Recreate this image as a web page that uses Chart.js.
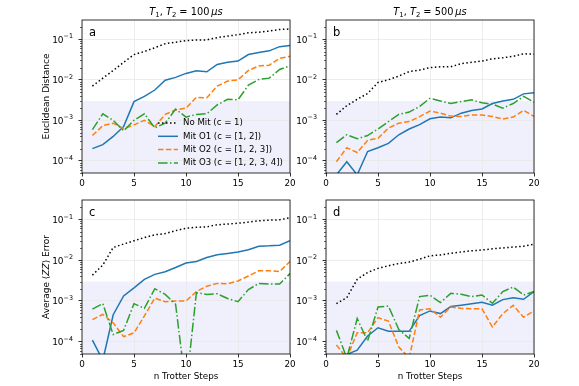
<!DOCTYPE html>
<html>
<head>
<meta charset="utf-8">
<script src="https://cdn.jsdelivr.net/npm/chart.js@4.4.0/dist/chart.umd.min.js"></script>
<style>
  body { margin: 0; background: #fff; }
  #wrap { position: relative; width: 579px; height: 386px; overflow: hidden; }
  canvas { position: absolute; }
</style>
</head>
<body>
<div id="wrap">
  <canvas id="pa"></canvas>
  <canvas id="pb"></canvas>
  <canvas id="pc"></canvas>
  <canvas id="pd"></canvas>
</div>
<script>
// ---- data ----
const steps = [1, 2, 3, 4, 5, 6, 7, 8, 9, 10, 11, 12, 13, 14, 15, 16, 17, 18, 19, 20];

const seriesNames = ['No Mit (c = 1)', 'Mit O1 (c = [1, 2])', 'Mit O2 (c = [1, 2, 3])', 'Mit O3 (c = [1, 2, 3, 4])'];
const coherenceTimes = [100, 500]; // us, left / right column
const xLabel = 'n Trotter Steps';
const panelLetters = ['a', 'b', 'c', 'd'];

const xTicks = [0, 5, 10, 15, 20];
const yTicks = [1e-4, 1e-3, 1e-2, 1e-1];
const yTickExponents = ['\u22124', '\u22123', '\u22122', '\u22121'];
const yMin = 5e-5;
const yMax = 0.3;
const shadeLimit = 3e-3;

// panel a : Euclidean distance, T = 100us
const noMitA = [0.007, 0.011, 0.017, 0.027, 0.042, 0.05, 0.062, 0.078, 0.085, 0.093, 0.096, 0.097, 0.11, 0.12, 0.13, 0.145, 0.15, 0.16, 0.175, 0.18];
const mitO1A = [2e-4, 2.5e-4, 4e-4, 7e-4, 2.9e-3, 3.9e-3, 5.6e-3, 9.8e-3, 0.0115, 0.0144, 0.0167, 0.0158, 0.024, 0.027, 0.029, 0.042, 0.047, 0.052, 0.066, 0.07];
const mitO2A = [4.2e-4, 7.4e-4, 8.5e-4, 6.2e-4, 7.7e-4, 1e-3, 7e-4, 1.4e-3, 1.8e-3, 2e-3, 3.7e-3, 3.6e-3, 7e-3, 9.3e-3, 0.01, 0.017, 0.022, 0.023, 0.034, 0.038];
const mitO3A = [5.9e-4, 1.45e-3, 1e-3, 5.5e-4, 1e-3, 1.45e-3, 6.5e-4, 8.5e-4, 1.9e-3, 1.2e-3, 1.4e-3, 1.45e-3, 2.4e-3, 3.3e-3, 3.2e-3, 7.4e-3, 0.0102, 0.011, 0.018, 0.022];

// panel b : Euclidean distance, T = 500us
const noMitB = [1.4e-3, 2.3e-3, 3.3e-3, 4.6e-3, 8.6e-3, 0.01, 0.0124, 0.016, 0.0174, 0.02, 0.021, 0.021, 0.025, 0.027, 0.029, 0.033, 0.035, 0.038, 0.044, 0.043];
const mitO1B = [4.5e-5, 9.5e-5, 4.5e-5, 1.7e-4, 2.1e-4, 2.7e-4, 4.4e-4, 6.1e-4, 7.8e-4, 1.09e-3, 1.2e-3, 1.15e-3, 1.5e-3, 1.75e-3, 1.9e-3, 2.6e-3, 3e-3, 3.3e-3, 4.5e-3, 4.8e-3];
const mitO2B = [9.5e-5, 2.1e-4, 1.6e-4, 3.2e-4, 3.6e-4, 6.4e-4, 8.5e-4, 9.3e-4, 1.23e-3, 1.7e-3, 1.5e-3, 1.27e-3, 1.25e-3, 1.35e-3, 1.35e-3, 1.25e-3, 1.07e-3, 1.2e-3, 1.75e-3, 1.25e-3];
const mitO3B = [2.8e-4, 4.4e-4, 3.5e-4, 4.2e-4, 6.1e-4, 9.3e-4, 1.4e-3, 1.6e-3, 2.2e-3, 3.5e-3, 3e-3, 2.6e-3, 2.9e-3, 3.2e-3, 2.7e-3, 2.5e-3, 2e-3, 2.6e-3, 3.9e-3, 2.8e-3];

// panel c : <ZZ> error, T = 100us
const noMitC = [4.3e-3, 7.6e-3, 0.0205, 0.025, 0.03, 0.036, 0.042, 0.045, 0.053, 0.061, 0.064, 0.066, 0.074, 0.077, 0.081, 0.086, 0.093, 0.096, 0.098, 0.11];
const mitO1C = [1.1e-4, 3.5e-5, 4.6e-4, 1.33e-3, 2.1e-3, 3.4e-3, 4.5e-3, 5.2e-3, 6.6e-3, 8.5e-3, 9.3e-3, 0.0117, 0.0136, 0.0147, 0.016, 0.018, 0.022, 0.0225, 0.0234, 0.03];
const mitO2C = [3.5e-4, 4.7e-4, 2.9e-4, 1.33e-4, 1.65e-4, 4.3e-4, 1.17e-3, 9.6e-4, 1e-3, 1e-3, 1.7e-3, 2.3e-3, 2.7e-3, 2.65e-3, 3.1e-3, 4.1e-3, 5.5e-3, 5.5e-3, 5.3e-3, 9.3e-3];
const mitO3C = [6.3e-4, 8.6e-4, 1.5e-4, 1.9e-4, 8.6e-4, 6.6e-4, 2e-3, 1.45e-3, 8.3e-4, 7e-6, 1.6e-3, 1.45e-3, 1.5e-3, 1.15e-3, 9.6e-4, 1.9e-3, 2.7e-3, 2.6e-3, 2.6e-3, 4.7e-3];

// panel d : <ZZ> error, T = 500us
const noMitD = [8.6e-4, 1.2e-3, 3.4e-3, 5e-3, 6.3e-3, 7.3e-3, 8.3e-3, 9e-3, 0.0106, 0.0128, 0.0135, 0.0148, 0.016, 0.017, 0.0178, 0.019, 0.02, 0.021, 0.022, 0.0246];
const mitO1D = [4e-5, 4.9e-5, 6.2e-5, 1.38e-4, 2.2e-4, 1.8e-4, 1.8e-4, 1.8e-4, 4.4e-4, 5.7e-4, 4.9e-4, 7.3e-4, 7.9e-4, 8.6e-4, 9.3e-4, 7.9e-4, 1.08e-3, 1.2e-3, 1.1e-3, 1.7e-3];
const mitO2D = [8.3e-5, 4e-5, 1.66e-4, 1.66e-4, 3.9e-4, 3.2e-4, 7.4e-5, 4e-5, 6e-4, 6.4e-4, 4e-4, 7.1e-4, 6.6e-4, 6.4e-4, 6.4e-4, 2.3e-4, 4.9e-4, 7.8e-4, 4e-4, 5.7e-4];
const mitO3D = [1.9e-4, 4e-5, 3.7e-4, 1.04e-4, 7.1e-4, 7.5e-4, 2e-4, 1.2e-4, 1.28e-3, 1.38e-3, 9.1e-4, 1.54e-3, 1.46e-3, 1.28e-3, 1.4e-3, 8.8e-4, 1.7e-3, 2.2e-3, 1.4e-3, 1.7e-3];

// ---- styles ----
const FONT = "'DejaVu Sans', sans-serif";
const lineStyles = [
  { color: '#000000', dash: [1.5, 2.5] },
  { color: '#1f77b4', dash: [] },
  { color: '#ff7f0e', dash: [5.5, 2.4] },
  { color: '#2ca02c', dash: [9.6, 2.4, 1.5, 2.4] }
];

// y axis titles as text runs (italic where matplotlib used mathtext)
const yTitleRuns = [
  [{ s: 'Euclidean Distance' }],
  [{ s: 'Average \u27e8' }, { s: 'ZZ', it: true }, { s: '\u27e9 Error' }]
];

// draw a list of runs left to right starting at x; returns nothing
function drawRuns(ctx, runs, cx, cy, size) {
  const fontFor = r => (r.it ? 'italic ' : '') + (r.sub || r.sup ? size * 0.7 : size) + 'px ' + FONT;
  let total = 0;
  runs.forEach(r => { ctx.font = fontFor(r); r.w = ctx.measureText(r.s).width; total += r.w; });
  let x = cx - total / 2;
  ctx.textAlign = 'left';
  runs.forEach(r => {
    ctx.font = fontFor(r);
    ctx.fillText(r.s, x, cy + (r.sub ? size * 0.25 : 0));
    x += r.w;
  });
}

const decorations = {
  id: 'decorations',
  beforeDraw(chart) {
    const { ctx, chartArea: a, scales } = chart;
    const yTop = scales.y.getPixelForValue(shadeLimit);
    ctx.save();
    ctx.fillStyle = '#eff0fc';
    ctx.fillRect(a.left, yTop, a.right - a.left, a.bottom - yTop);
    ctx.restore();
  },
  afterDraw(chart, args, opts) {
    const { ctx, chartArea: a, scales } = chart;
    ctx.save();
    ctx.fillStyle = '#000';
    // minor log ticks
    ctx.strokeStyle = '#000';
    ctx.lineWidth = 0.6;
    for (let e = -5; e <= 0; e++) {
      for (let k = 2; k <= 9; k++) {
        const v = k * Math.pow(10, e);
        if (v < yMin || v > yMax) continue;
        const py = Math.round(scales.y.getPixelForValue(v)) + 0.5;
        ctx.beginPath();
        ctx.moveTo(a.left - 2, py);
        ctx.lineTo(a.left, py);
        ctx.stroke();
      }
    }
    // major y labels 10^-n
    ctx.textBaseline = 'middle';
    ctx.textAlign = 'left';
    yTicks.forEach((v, i) => {
      const py = scales.y.getPixelForValue(v);
      ctx.font = '9px ' + FONT;
      const wb = ctx.measureText('10').width;
      ctx.font = '6.4px ' + FONT;
      const we = ctx.measureText(yTickExponents[i]).width;
      const xr = a.left - 9;
      ctx.font = '9px ' + FONT;
      ctx.fillText('10', xr - we - wb, py + 1);
      ctx.font = '6.4px ' + FONT;
      ctx.fillText(yTickExponents[i], xr - we, py - 2.5);
    });
    // frame
    ctx.lineWidth = 0.8;
    ctx.strokeRect(a.left, a.top, a.right - a.left, a.bottom - a.top);
    // panel letter
    ctx.font = '11.5px ' + FONT;
    ctx.fillText(opts.letter, a.left + 7, a.top + 13);
    // y title, rotated
    if (opts.yTitle !== undefined) {
      ctx.save();
      ctx.translate(a.left - 35, (a.top + a.bottom) / 2);
      ctx.rotate(-Math.PI / 2);
      ctx.textBaseline = 'middle';
      drawRuns(ctx, yTitleRuns[opts.yTitle].map(r => ({ ...r })), 0, 0, 9);
      ctx.restore();
    }
    // column title
    if (opts.title) {
      ctx.textBaseline = 'alphabetic';
      drawRuns(ctx, [
        { s: 'T', it: true }, { s: '1', sub: true }, { s: ', ' },
        { s: 'T', it: true }, { s: '2', sub: true }, { s: ' = ' + opts.title + '\u2009' },
        { s: '\u03bcs', it: true }
      ], (a.left + a.right) / 2, 15, 9.8);
    }
    // legend
    if (opts.legend) {
      ctx.font = '8.6px ' + FONT;
      ctx.textBaseline = 'middle';
      chart.data.datasets.forEach((ds, i) => {
        const y = a.bottom - 50 + i * 13.3;
        const x0 = a.left + 76;
        ctx.strokeStyle = ds.borderColor;
        ctx.lineWidth = 1.5;
        ctx.setLineDash(ds.borderDash);
        ctx.beginPath();
        ctx.moveTo(x0, y);
        ctx.lineTo(x0 + 20, y);
        ctx.stroke();
        ctx.setLineDash([]);
        ctx.fillText(ds.label, x0 + 25, y);
      });
    }
    ctx.restore();
  }
};

function makePanel(id, geo, series, opts) {
  const cv = document.getElementById(id);
  cv.width = geo.w;
  cv.height = geo.h;
  cv.style.left = geo.x + 'px';
  cv.style.top = geo.y + 'px';
  const datasets = series.map((vals, i) => ({
    label: seriesNames[i],
    data: steps.map((s, j) => ({ x: s, y: vals[j] })),
    borderColor: lineStyles[i].color,
    borderDash: lineStyles[i].dash,
    borderWidth: 1.5,
    borderCapStyle: 'butt',
    pointRadius: 0,
    tension: 0,
    fill: false,
    order: 3 - i
  }));
  return new Chart(cv, {
    type: 'line',
    data: { datasets },
    plugins: [decorations],
    options: {
      responsive: false,
      animation: false,
      devicePixelRatio: 1,
      layout: { padding: { left: 0, top: geo.padTop, right: geo.padRight, bottom: 0 } },
      plugins: {
        legend: { display: false },
        tooltip: { enabled: false },
        decorations: opts
      },
      scales: {
        x: {
          type: 'linear',
          min: 0,
          max: 20,
          afterBuildTicks: s => { s.ticks = xTicks.map(v => ({ value: v })); },
          afterFit: s => { s.height = geo.xH; },
          grid: { color: '#e8e8e8', lineWidth: 0.8, tickColor: '#000', tickLength: 3.5, tickWidth: 0.8 },
          border: { display: false },
          ticks: { color: '#000', font: { family: FONT, size: 8.8 }, padding: 1.5, maxRotation: 0 },
          title: opts.xTitle ? { display: true, text: xLabel, color: '#000', font: { family: FONT, size: 8.8 }, padding: { top: 0, bottom: 4.5 } } : { display: false }
        },
        y: {
          type: 'logarithmic',
          min: yMin,
          max: yMax,
          afterBuildTicks: s => { s.ticks = yTicks.map(v => ({ value: v })); },
          afterFit: s => { s.width = geo.yW; },
          grid: { color: '#e8e8e8', lineWidth: 0.8, tickColor: '#000', tickLength: 3.5, tickWidth: 0.8 },
          border: { display: false },
          ticks: { display: false }
        }
      }
    }
  });
}

// geometry of the four panels (canvas box and axis box sizes)
const geoA = { x: 0, y: 0, w: 300, h: 190, padTop: 20, padRight: 10, yW: 82, xH: 17 };
const geoB = { x: 292, y: 0, w: 287, h: 190, padTop: 20, padRight: 45, yW: 34, xH: 17 };
const geoC = { x: 0, y: 190, w: 300, h: 196, padTop: 10, padRight: 10, yW: 82, xH: 32 };
const geoD = { x: 292, y: 190, w: 287, h: 196, padTop: 10, padRight: 45, yW: 34, xH: 32 };

makePanel('pa', geoA, [noMitA, mitO1A, mitO2A, mitO3A], { letter: panelLetters[0], title: coherenceTimes[0], yTitle: 0, legend: true });
makePanel('pb', geoB, [noMitB, mitO1B, mitO2B, mitO3B], { letter: panelLetters[1], title: coherenceTimes[1] });
makePanel('pc', geoC, [noMitC, mitO1C, mitO2C, mitO3C], { letter: panelLetters[2], yTitle: 1, xTitle: true });
makePanel('pd', geoD, [noMitD, mitO1D, mitO2D, mitO3D], { letter: panelLetters[3], xTitle: true });
</script>
</body>
</html>
